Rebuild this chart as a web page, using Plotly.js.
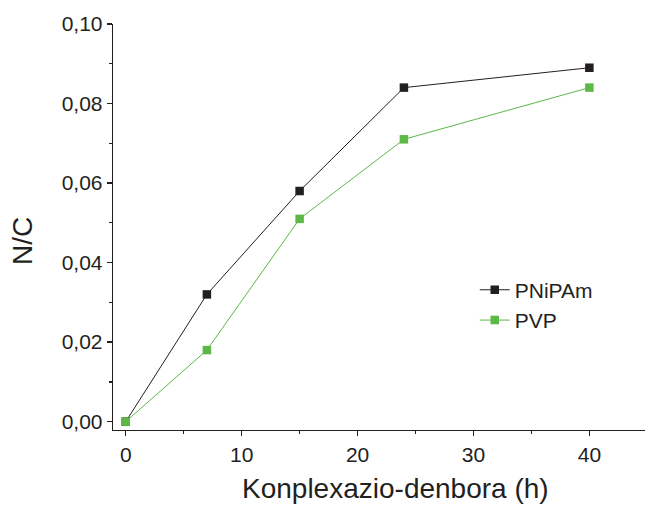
<!DOCTYPE html>
<html><head><meta charset="utf-8">
<script src="https://cdn.plot.ly/plotly-3.0.1.min.js"></script>
<style>html,body{margin:0;padding:0;background:#fff}#chart{width:647px;height:505px}</style>
</head><body><div id="chart"></div>
<script>
const hours = [0, 7, 15, 24, 40];
const pnipam = [0.000, 0.032, 0.058, 0.084, 0.089];
const pvp = [0.000, 0.018, 0.051, 0.071, 0.084];
const seriesNames = ["PNiPAm", "PVP"];
const xTitle = 'Konplexazio-denbora (h)';
const yTitle = 'N/C';

const traces = [
  {x: hours, y: pnipam, name: seriesNames[0], mode: 'lines+markers',
   line: {color: '#231f20', width: 1}, marker: {symbol: 'square', size: 8.5, color: '#231f20'}},
  {x: hours, y: pvp, name: seriesNames[1], mode: 'lines+markers',
   line: {color: '#5cb946', width: 1}, marker: {symbol: 'square', size: 8.5, color: '#5cb946'}}
];
const fam = 'Liberation Sans, Arial, sans-serif';
const axisFont = {family: fam, size: 21, color: '#231f20'};
const titleFont = {family: fam, size: 28, color: '#231f20'};
const layout = {
  width: 647, height: 505,
  margin: {l: 113, r: 2, t: 24, b: 75},
  paper_bgcolor: '#fff', plot_bgcolor: '#fff',
  separators: ',.',
  showlegend: true,
  legend: {x: 0.68, y: 0.395, xanchor: 'left', yanchor: 'top', font: {family: fam, size: 21, color: '#231f20'}, bgcolor: 'rgba(0,0,0,0)', tracegroupgap: 0},
  xaxis: {range: [-1.1, 44.8], tickvals: [0,10,20,30,40], ticks: 'outside', ticklen: 5, tickwidth: 1.3, tickcolor: '#231f20',
    showline: true, linecolor: '#231f20', linewidth: 1.3, showgrid: false, zeroline: false, tickfont: axisFont,
    minor: {tickvals: [5,15,25,35], ticks: 'outside', ticklen: 3, tickwidth: 1.3, tickcolor: '#231f20', showgrid: false}},
  yaxis: {range: [-0.0021, 0.1], tickvals: [0,0.02,0.04,0.06,0.08,0.10], tickformat: '.2f', ticks: 'outside', ticklen: 5, tickwidth: 1.3, tickcolor: '#231f20',
    showline: true, linecolor: '#231f20', linewidth: 1.3, showgrid: false, zeroline: false, tickfont: axisFont,
    minor: {tickvals: [0.01,0.03,0.05,0.07,0.09], ticks: 'outside', ticklen: 3, tickwidth: 1.3, tickcolor: '#231f20', showgrid: false}},
  annotations: [
    {text: xTitle, xref: 'paper', yref: 'paper', x: (395-113)/532, y: (430-488)/406, xanchor: 'center', yanchor: 'middle', showarrow: false, borderpad: 0, font: titleFont},
    {text: yTitle, xref: 'paper', yref: 'paper', x: (22-113)/532, y: (430-241)/406, xanchor: 'center', yanchor: 'middle', textangle: -90, showarrow: false, borderpad: 0, font: titleFont}
  ]
};
Plotly.newPlot('chart', traces, layout, {displayModeBar: false, staticPlot: true});
</script></body></html>
